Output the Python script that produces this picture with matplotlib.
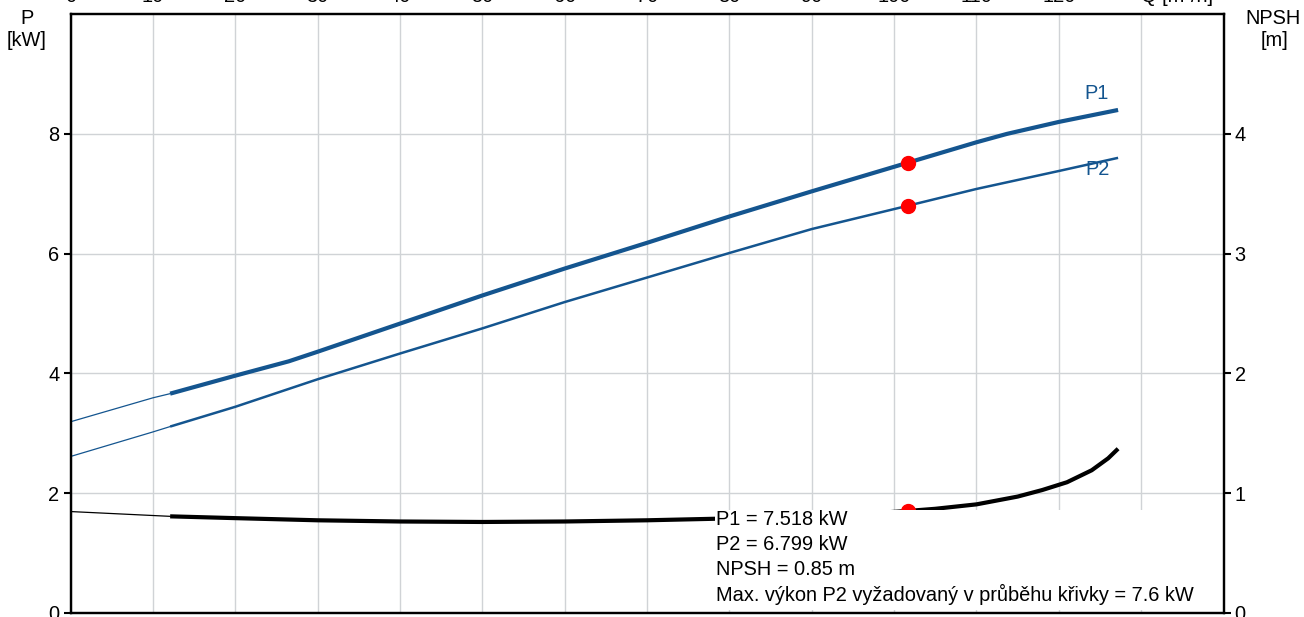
import matplotlib
matplotlib.use("Agg")
import matplotlib.pyplot as plt
from matplotlib.patches import Rectangle

plt.rcParams["font.family"] = ["Liberation Sans", "DejaVu Sans"]
plt.rcParams["font.size"] = 14.4

# ---- pump curve data -------------------------------------------------------
# flow axis ticks (m3/h)
q_ticks = list(range(0, 150, 10))
q_labels = [str(v) for v in range(0, 130, 10)] + ["Q [m³/h]", ""]

# P1 (input power, kW): thin extension then operating range
q_p1_ext = [0, 10, 12.1]
p1_ext = [3.19, 3.59, 3.66]
q_p1 = [12.1, 20, 26.5, 30, 40, 50, 60, 70, 80, 90, 101.65, 110, 113.7, 120, 127.2]
p1 = [3.66, 3.96, 4.20, 4.36, 4.83, 5.30, 5.75, 6.18, 6.62, 7.04, 7.518, 7.86, 8.0, 8.20, 8.40]

# P2 (shaft power, kW)
q_p2_ext = [0, 10, 12.1]
p2_ext = [2.61, 3.02, 3.11]
q_p2 = [12.1, 20, 30, 40, 50, 60, 70, 80, 90, 101.65, 110, 120, 127.2]
p2 = [3.11, 3.44, 3.90, 4.33, 4.75, 5.19, 5.60, 6.01, 6.41, 6.799, 7.08, 7.38, 7.6]

# NPSH (m)
q_npsh_ext = [0, 12.1]
npsh_ext = [0.845, 0.805]
q_npsh = [12.1, 20, 30, 40, 50, 60, 70, 78.4, 85, 95, 101.65, 105, 110, 115, 118,
          121, 124, 126, 127.2]
npsh = [0.805, 0.79, 0.772, 0.762, 0.758, 0.762, 0.772, 0.785, 0.80, 0.82, 0.85, 0.868,
        0.905, 0.97, 1.025, 1.09, 1.19, 1.29, 1.37]

# duty point
q_duty = 101.65
p1_duty = 7.518
p2_duty = 6.799
npsh_duty = 0.85
p2_max = max(p2)

blue = "#14558f"
grid_c = "#d0d3d6"
fs = 14.4

fig = plt.figure(figsize=(13.04, 6.17), dpi=100)
W, H = 1304, 617
x0, x1, ytop, ybot = 70.5, 1223.5, 14.2, 612.7
ax = fig.add_axes([x0 / W, (H - ybot) / H, (x1 - x0) / W, (ybot - ytop) / H])
ax2 = ax.twinx()

ax.set_xlim(0, 140)
ax.set_ylim(0, 10)
ax2.set_ylim(0, 5)

# grid and ticks
ax.set_xticks(q_ticks)
ax.set_xticklabels(q_labels)
ax.set_yticks([0, 2, 4, 6, 8])
ax.grid(True, color=grid_c, linewidth=1.0)
ax.set_axisbelow(True)
ax.xaxis.set_ticks_position("top")
ax.tick_params(axis="x", length=0, pad=6.0, labelsize=fs)
for lbl in ax.get_xticklabels():
    if lbl.get_text().startswith("Q"):
        lbl.set_horizontalalignment("left")
ax.tick_params(axis="y", direction="out", length=5, width=1.5, pad=3, labelsize=fs)
ax2.set_yticks([0, 1, 2, 3, 4])
ax2.tick_params(axis="y", direction="out", length=5, width=1.5, pad=3, labelsize=fs)

for a in (ax, ax2):
    for s in a.spines.values():
        s.set_linewidth(1.6)
        s.set_color("black")

# power curves
ax.plot(q_p1_ext, p1_ext, color=blue, lw=0.9, zorder=2)
ax.plot(q_p1, p1, color=blue, lw=3.0, solid_capstyle="butt", zorder=2)
ax.plot(q_p2_ext, p2_ext, color=blue, lw=0.9, zorder=2)
ax.plot(q_p2, p2, color=blue, lw=1.8, solid_capstyle="butt", zorder=2)
ax.plot([q_duty, q_duty], [p1_duty, p2_duty], linestyle="none", marker="o",
        ms=10, color="#ff0000", zorder=3)
ax.text(124.6, 8.68, "P1", color=blue, ha="center", va="center", fontsize=fs)
ax.text(124.7, 7.40, "P2", color=blue, ha="center", va="center", fontsize=fs)

# NPSH curve
ax2.plot(q_npsh_ext, npsh_ext, color="black", lw=0.9, zorder=2)
ax2.plot(q_npsh, npsh, color="black", lw=3.0, solid_capstyle="butt", zorder=2)
ax2.plot([q_duty], [npsh_duty], linestyle="none", marker="o", ms=10,
         color="#ff0000", zorder=3)

# info box
ax2.add_patch(Rectangle((78.2, 0.02), 138.5 - 78.2, 0.862 - 0.02,
                        facecolor="white", edgecolor="none", zorder=5))
info = [
    f"P1 = {p1_duty:.3f} kW",
    f"P2 = {p2_duty:.3f} kW",
    f"NPSH = {npsh_duty:.2f} m",
    f"Max. výkon P2 vyžadovaný v průběhu křivky = {p2_max:.1f} kW",
]
for i, line in enumerate(info):
    ax2.text(78.4, 0.776 - i * 0.207, line, ha="left", va="center",
             fontsize=fs, zorder=6)

# axis titles
fig.text(27 / W, 1 - 19 / H, "P", ha="center", va="center", fontsize=fs)
fig.text(27 / W, 1 - 41 / H, "[kW]", ha="center", va="center", fontsize=fs)
fig.text(1273 / W, 1 - 19 / H, "NPSH", ha="center", va="center", fontsize=fs)
fig.text(1274 / W, 1 - 41 / H, "[m]", ha="center", va="center", fontsize=fs)

fig.savefig("out.png", dpi=100)
